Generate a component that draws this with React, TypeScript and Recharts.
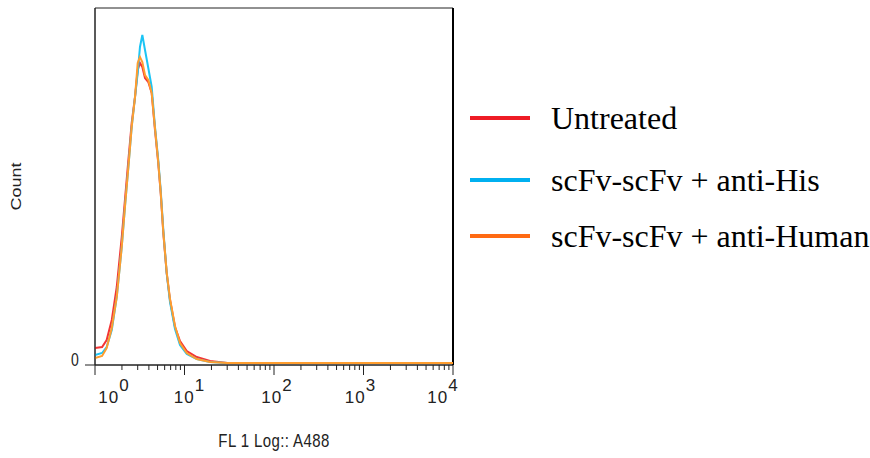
import { LineChart, Line, XAxis, YAxis, ReferenceArea, ReferenceLine } from 'recharts';

// FL 1 (A488) fluorescence channel values, log axis
const fluorescence = [1.0, 1.2, 1.35, 1.54, 1.75, 1.99, 2.16, 2.36, 2.57, 2.8, 3.0, 3.18, 3.38, 3.62, 3.94, 4.3, 4.68, 5.09, 5.42, 5.8, 6.32, 6.89, 7.83, 8.91, 10.6, 13.7, 19.3, 30, 100, 1000, 10000];

const untreated = [17, 18, 25, 45, 78, 128, 165, 205, 242, 268, 295, 302, 298, 287, 283, 272, 235, 202, 172, 132, 92, 65, 38, 24, 14, 8, 4, 2, 2, 2, 2];
const antiHis = [10, 12, 18, 35, 68, 118, 158, 198, 238, 268, 292, 318, 330, 315, 297, 278, 238, 205, 175, 135, 92, 63, 36, 20, 11, 6, 3, 2, 2, 2, 2];
const antiHuman = [7, 9, 17, 37, 68, 118, 158, 198, 238, 268, 302, 308, 303, 290, 285, 272, 237, 203, 173, 133, 93, 66, 39, 22, 12, 6, 3, 2, 2, 2, 2];

const seriesNames = ['Untreated', 'scFv-scFv + anti-His', 'scFv-scFv + anti-Human'];
const lineColors = ['#f43434', '#1cc4f4', '#ff9d2e'];
const legendColors = ['#ee1c25', '#00b0f0', '#ff6a13'];

const majorTicks = [1, 10, 100, 1000, 10000];
const xTicks = majorTicks.flatMap((d, i) =>
  i === majorTicks.length - 1 ? [d] : [1, 2, 3, 4, 5, 6, 7, 8, 9].map((m) => m * d)
);

const data = fluorescence.map((fl, i) => ({
  fl,
  untreated: untreated[i],
  antiHis: antiHis[i],
  antiHuman: antiHuman[i],
}));

const keys = ['untreated', 'antiHis', 'antiHuman'];

// small horizontal nudges for the decade labels, like the original export
const labelNudge = [19, 5, 3, -3, -10];
// vertical centres of the legend rows
const legendRowY = [118, 180, 236];

const axisFont = '"Liberation Sans", Arial, sans-serif';

const LogTick = ({ x, y, payload }: any) => {
  const v = payload.value;
  const lg = Math.log10(v);
  const exp = Math.round(lg);
  const major = Math.abs(lg - exp) < 1e-9;
  return (
    <g>
      <line x1={x} x2={x} y1={y} y2={y + (major ? 10 : 5)} stroke="#222" />
      {major && (
        <text
          x={x + labelNudge[exp]}
          y={y + 38}
          textAnchor="middle"
          fontSize={17}
          fontFamily={axisFont}
          letterSpacing={1}
          fill="#222"
        >
          10<tspan dy={-12}>{exp}</tspan>
        </text>
      )}
    </g>
  );
};

const ZeroTick = ({ x, y, payload }: any) => (
  <g>
    <line x1={x} x2={x - 10} y1={y} y2={y} stroke="#222" />
    <text
      x={x - 20}
      y={y - 6}
      textAnchor="middle"
      dominantBaseline="central"
      fontSize={14}
      fontFamily={axisFont}
      fill="#222"
      transform={`translate(${x - 20}, ${y - 6}) scale(1, 1.3) translate(${-(x - 20)}, ${-(y - 6)})`}
    >
      {payload.value}
    </text>
  </g>
);

const CountLabel = ({ viewBox }: any) => {
  const cx = viewBox.x + 16;
  const cy = viewBox.y + viewBox.height / 2;
  return (
    <text
      x={0}
      y={0}
      transform={`translate(${cx}, ${cy}) scale(1, 1.2) rotate(-90)`}
      textAnchor="middle"
      dominantBaseline="central"
      fontSize={15}
      fontFamily={axisFont}
      fill="#222"
    >
      Count
    </text>
  );
};

const FlLabel = ({ viewBox }: any) => {
  const cx = viewBox.x + viewBox.width / 2;
  const cy = viewBox.y + 76;
  return (
    <text
      x={0}
      y={0}
      transform={`translate(${cx}, ${cy}) scale(1, 1.25)`}
      textAnchor="middle"
      dominantBaseline="central"
      fontSize={15}
      fontFamily={axisFont}
      letterSpacing={0.4}
      fill="#222"
    >
      FL 1 Log:: A488
    </text>
  );
};

export default function App() {
  return (
    <div style={{ position: 'absolute', left: 0, top: 0, width: 870, height: 458, background: '#fff' }}>
      <LineChart width={870} height={458} data={data} margin={{ top: 8, right: 417, bottom: 8, left: 0 }}>
        <XAxis
          dataKey="fl"
          type="number"
          scale="log"
          domain={[1, 10000]}
          ticks={xTicks}
          interval={0}
          tick={<LogTick />}
          tickLine={false}
          tickSize={0}
          tickMargin={0}
          height={85}
          axisLine={{ stroke: '#222' }}
          allowDataOverflow
          label={<FlLabel />}
        />
        <YAxis
          type="number"
          domain={[0, 357]}
          ticks={[0]}
          tick={<ZeroTick />}
          tickLine={false}
          tickSize={0}
          tickMargin={0}
          width={95}
          axisLine={{ stroke: '#222' }}
          label={<CountLabel />}
        />
        <ReferenceArea x1={1} x2={10000} y1={0} y2={357} fill="none" stroke="#222" strokeWidth={1} />
        <ReferenceLine x={10000} stroke="#000" strokeWidth={2} />
        {keys.map((k, i) => (
          <Line
            key={k}
            dataKey={k}
            name={seriesNames[i]}
            type="linear"
            stroke={lineColors[i]}
            strokeWidth={2}
            dot={false}
            isAnimationActive={false}
          />
        ))}
      </LineChart>
      {seriesNames.map((name, i) => (
        <div
          key={name}
          style={{
            position: 'absolute',
            left: 470,
            top: legendRowY[i] - 20,
            height: 40,
            display: 'flex',
            alignItems: 'center',
            fontFamily: '"Liberation Serif", "Times New Roman", serif',
            fontSize: 32,
            color: '#000',
            whiteSpace: 'nowrap',
          }}
        >
          <div style={{ width: 60, height: 4, background: legendColors[i], marginRight: 21 }} />
          <span>{name}</span>
        </div>
      ))}
    </div>
  );
}
